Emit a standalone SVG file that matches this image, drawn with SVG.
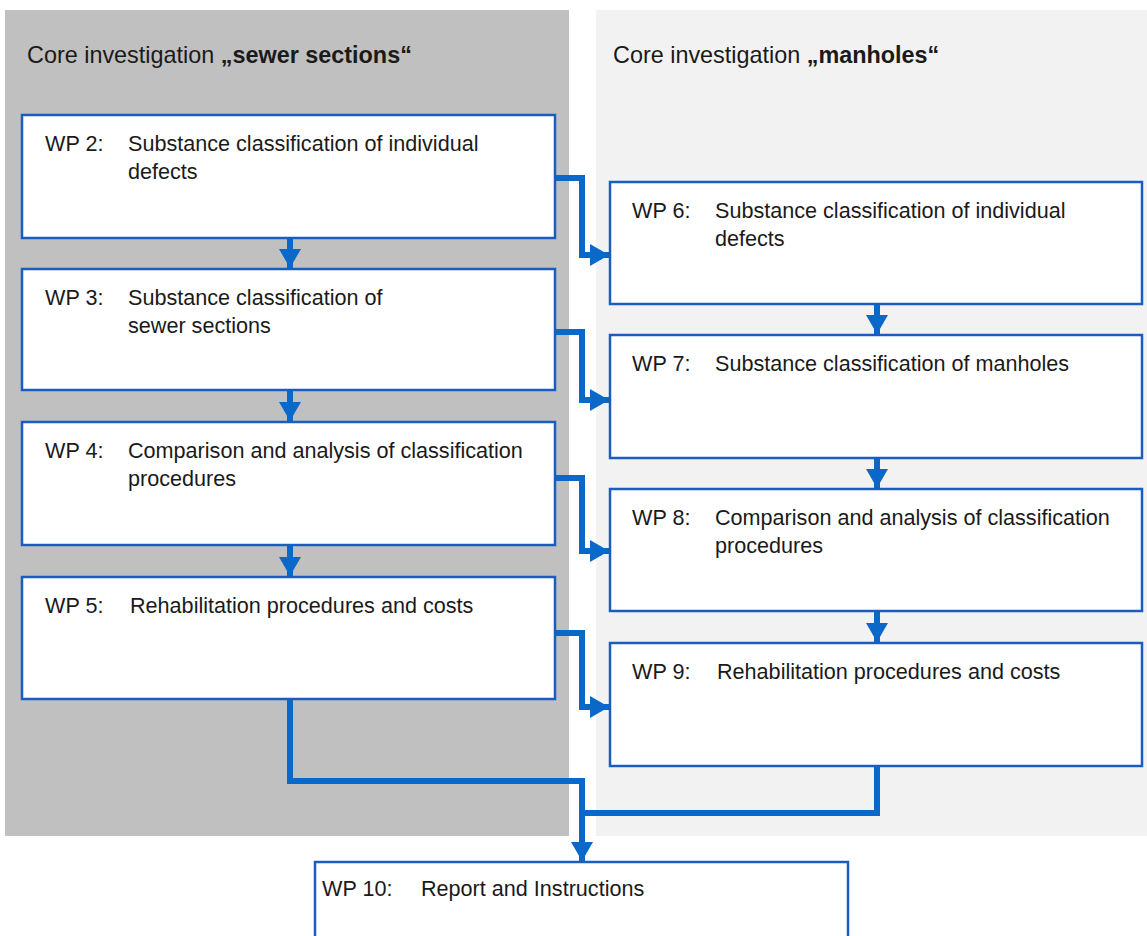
<svg xmlns="http://www.w3.org/2000/svg" width="1147" height="936" viewBox="0 0 1147 936">
<style>
.box{fill:#ffffff;stroke:#1a5cc0;stroke-width:2.5}
.t{font-family:"Liberation Sans",Arial,sans-serif;font-size:21.6px;fill:#1a1a1a}
.h{font-family:"Liberation Sans",Arial,sans-serif;font-size:23.4px;fill:#1a1a1a}
.b{font-weight:bold}
.c{fill:none;stroke:#0a68c8;stroke-width:6;stroke-linejoin:miter}
.ah{fill:#0a68c8}
</style>
<defs>
<marker id="arr" markerUnits="userSpaceOnUse" markerWidth="22" markerHeight="24" viewBox="0 0 22 24" refX="20" refY="12" orient="auto">
<path d="M1,1 L20,12 L1,23 Z" class="ah"/>
</marker>
</defs>
<rect x="0" y="0" width="1147" height="936" fill="#ffffff"/>
<rect x="5" y="10" width="564" height="826" fill="#c0c0c0"/>
<rect x="596" y="10" width="551" height="826" fill="#f2f2f2"/>
<text class="h" x="27" y="63">Core investigation <tspan class="b">„sewer sections“</tspan></text>
<text class="h" x="613" y="63">Core investigation <tspan class="b">„manholes“</tspan></text>

<g id="connectors">
<path class="c" d="M290,238 V268" marker-end="url(#arr)"/>
<path class="c" d="M290,390 V421" marker-end="url(#arr)"/>
<path class="c" d="M290,545 V576" marker-end="url(#arr)"/>
<path class="c" d="M877,304 V334" marker-end="url(#arr)"/>
<path class="c" d="M877,458 V488" marker-end="url(#arr)"/>
<path class="c" d="M877,611 V642" marker-end="url(#arr)"/>
<path class="c" d="M555,178 H582 V255 H609" marker-end="url(#arr)"/>
<path class="c" d="M555,332 H582 V400 H609" marker-end="url(#arr)"/>
<path class="c" d="M555,478 H582 V551 H609" marker-end="url(#arr)"/>
<path class="c" d="M555,633 H582 V707 H609" marker-end="url(#arr)"/>
<path class="c" d="M290,699 V781 H582 V861" marker-end="url(#arr)"/>
<path class="c" d="M877,766 V813 H579"/>
</g>

<g id="wp2"><rect class="box" x="22" y="115" width="533" height="123"/>
<text class="t" x="45" y="151">WP 2:</text><text class="t" x="128" y="151">Substance classification of individual</text><text class="t" x="128" y="179">defects</text></g>
<g id="wp3"><rect class="box" x="22" y="269" width="533" height="121"/>
<text class="t" x="45" y="305">WP 3:</text><text class="t" x="128" y="305">Substance classification of</text><text class="t" x="128" y="333">sewer sections</text></g>
<g id="wp4"><rect class="box" x="22" y="422" width="533" height="123"/>
<text class="t" x="45" y="458">WP 4:</text><text class="t" x="128" y="458">Comparison and analysis of classification</text><text class="t" x="128" y="486">procedures</text></g>
<g id="wp5"><rect class="box" x="22" y="577" width="533" height="122"/>
<text class="t" x="45" y="613">WP 5:</text><text class="t" x="130" y="613">Rehabilitation procedures and costs</text></g>
<g id="wp6"><rect class="box" x="610" y="182" width="532" height="122"/>
<text class="t" x="632" y="218">WP 6:</text><text class="t" x="715" y="218">Substance classification of individual</text><text class="t" x="715" y="246">defects</text></g>
<g id="wp7"><rect class="box" x="610" y="335" width="532" height="123"/>
<text class="t" x="632" y="371">WP 7:</text><text class="t" x="715" y="371">Substance classification of manholes</text></g>
<g id="wp8"><rect class="box" x="610" y="489" width="532" height="122"/>
<text class="t" x="632" y="525">WP 8:</text><text class="t" x="715" y="525">Comparison and analysis of classification</text><text class="t" x="715" y="553">procedures</text></g>
<g id="wp9"><rect class="box" x="610" y="643" width="532" height="123"/>
<text class="t" x="632" y="679">WP 9:</text><text class="t" x="717" y="679">Rehabilitation procedures and costs</text></g>
<g id="wp10"><rect class="box" x="315" y="862" width="533" height="80"/>
<text class="t" x="322" y="896">WP 10:</text><text class="t" x="421" y="896">Report and Instructions</text></g>
</svg>
